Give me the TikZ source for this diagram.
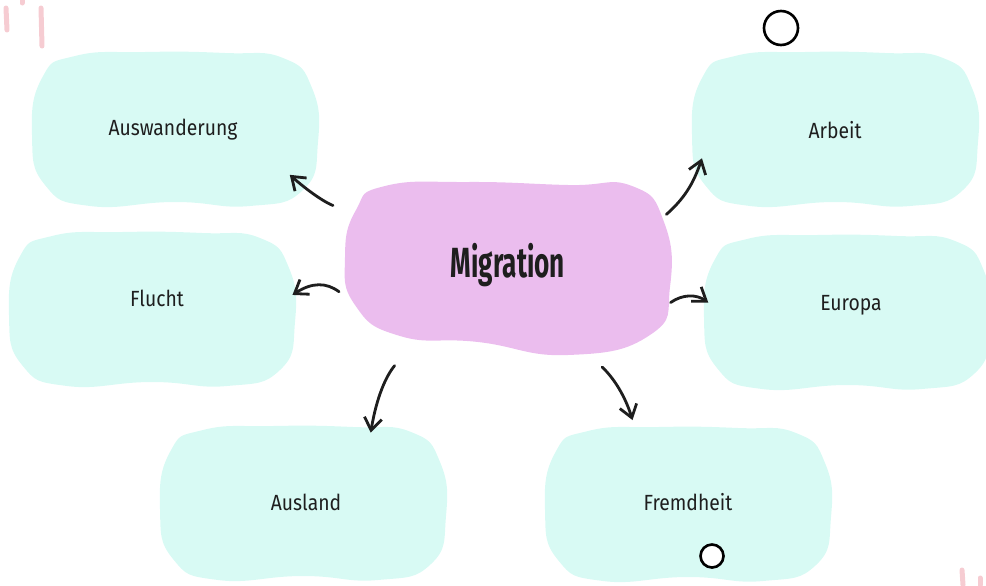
\documentclass[tikz,border=0pt]{standalone}
\usepackage{fontspec}
\setmainfont{Fira Sans}
\newfontfamily\labelfont[FakeStretch=0.88]{Fira Sans}
\newfontfamily\centerfont[FakeStretch=0.62]{Fira Sans}
\usetikzlibrary{arrows.meta,shapes.geometric}

\definecolor{tealfill}{HTML}{D8FAF4}
\definecolor{pinkfill}{HTML}{EBBDEE}
\definecolor{markpink}{HTML}{F6CCD2}
\definecolor{inkgray}{HTML}{1E1E1E}

% one soft cloud, centred on #1
\newcommand{\tealblob}[1]{%
  \fill[tealfill, shift={#1}] plot[smooth cycle, tension=0.85] coordinates
    {(-100,-74) (-30,-78) (50,-77) (108,-72) (137,-42) (143,12) (128,60)
     (75,76) (0,72) (-85,76) (-130,55) (-143,5) (-133,-52)};}

\tikzset{
  topic/.style={ellipse, inner sep=0pt, minimum width=5.7cm, minimum height=3.1cm,
    text=inkgray, font=\labelfont\fontsize{12.5}{15}\selectfont},
  hub/.style={ellipse, inner sep=0pt, minimum width=7cm, minimum height=4cm,
    text=inkgray, font=\centerfont\bfseries\fontsize{24}{28}\selectfont},
  link/.style={line width=1.6pt, inkgray, line cap=round,
    -{Straight Barb[length=7pt, width=10pt, line width=1.6pt]}},
  ring/.style={line width=1.5pt, fill=white},
  streak/.style={markpink, line width=0.1cm, line cap=round}
}

\begin{document}
\begin{tikzpicture}[x=0.02cm, y=-0.02cm]
\useasboundingbox (0,0) rectangle (986,585);

% clouds
\tealblob{(175,130)}
\tealblob{(835,130)}
\tealblob{(152,310)}
\tealblob{(847,313)}
\tealblob{(303,504)}
\tealblob{(688,505)}
\fill[pinkfill] plot[smooth cycle, tension=0.85] coordinates
  {(385,186) (468,182) (568,185) (632,186) (664,222) (670,287) (650,335)
   (568,355) (478,342) (400,336) (355,305) (345,257) (356,210)};

% labels
\node[hub] (mig) at (508,265) {Migration};
\node[topic] (ausw) at (173,130) {Auswanderung};
\node[topic] (arb) at (835,130) {Arbeit};
\node[topic] (flu) at (157,298) {Flucht};
\node[topic] (eur) at (851,305) {Europa};
\node[topic] (ausl) at (306,502) {Ausland};
\node[topic] (fremd) at (688,502) {Fremdheit};

% arrows
\draw[link, shorten <=0.52cm] (mig.161) to[bend left=12] (ausw.-21);
\draw[link, shorten >=-0.16cm] (mig.-171) to[bend right=35] (flu.3);
\draw[link, shorten <=0.46cm] (mig.220) to[bend right=15] (ausl.47);
\draw[link, shorten <=0.38cm, shorten >=0.2cm] (mig.-48) to[bend left=15] (fremd.126);
\draw[link] (mig.-13) to[bend left=35] (eur.179);
\draw[link, shorten <=0.1cm] (mig.17) to[bend right=15] (arb.-168);

% decorations
\draw[ring] (781,28) circle (0.34cm);
\draw[ring] (712,556) circle (0.23cm);
\draw[streak] (6,8) -- (7,30);
\draw[streak] (22,0) -- (22,3);
\draw[streak] (41,8) -- (42,46);
\draw[streak] (962,570) -- (963,585);
\draw[streak] (980,578) -- (980,585);
\end{tikzpicture}
\end{document}
